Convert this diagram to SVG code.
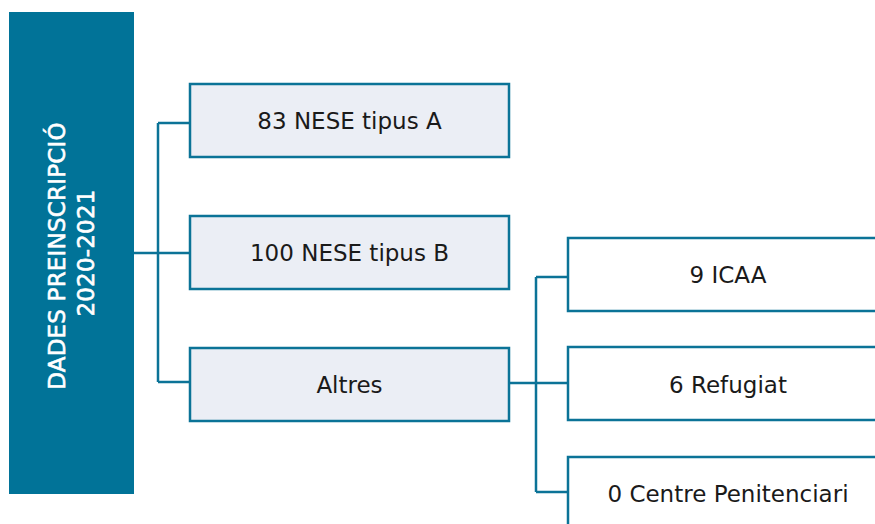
<svg xmlns="http://www.w3.org/2000/svg" width="875" height="524" viewBox="0 0 875 524">
<style>
.box{fill:#ebeef5;stroke:#0b7397;stroke-width:2.5}
.wbox{fill:#ffffff;stroke:#0b7397;stroke-width:2.5}
.lbl{font-family:"DejaVu Sans","Liberation Sans",sans-serif;font-size:23px;fill:#1a1a1a;text-anchor:middle}
.head{font-family:"DejaVu Sans","Liberation Sans",sans-serif;font-size:23px;letter-spacing:0.2px;fill:#ffffff;stroke:#ffffff;stroke-width:0.6;text-anchor:middle}
.con{fill:none;stroke:#0b7397;stroke-width:2.5}
</style>
<rect width="875" height="524" fill="#ffffff"/>
<g id="connectors">
<path class="con" d="M134 253 H190 M158 123 V382 M158 123 H190 M158 382 H190"/>
<path class="con" d="M509 383 H568 M536 277 V492 M536 277 H568 M536 492 H568"/>
</g>
<g id="root">
<rect x="9" y="12" width="125" height="482" fill="#017398"/>
<text class="head" transform="translate(65 256) rotate(-90)">DADES PREINSCRIPCIÓ</text>
<text class="head" transform="translate(94 253) rotate(-90)">2020-2021</text>
</g>
<g id="nodeA">
<rect class="box" x="190" y="84" width="319" height="73"/>
<text class="lbl" x="349.5" y="129">83 NESE tipus A</text>
</g>
<g id="nodeB">
<rect class="box" x="190" y="216" width="319" height="73"/>
<text class="lbl" x="349.5" y="261">100 NESE tipus B</text>
</g>
<g id="nodeAltres">
<rect class="box" x="190" y="348" width="319" height="73"/>
<text class="lbl" x="349.5" y="393">Altres</text>
</g>
<g id="nodeICAA">
<rect class="wbox" x="568" y="238" width="330" height="73"/>
<text class="lbl" x="728" y="283">9 ICAA</text>
</g>
<g id="nodeRefugiat">
<rect class="wbox" x="568" y="347" width="330" height="73"/>
<text class="lbl" x="728" y="393">6 Refugiat</text>
</g>
<g id="nodeCentre">
<rect class="wbox" x="568" y="457" width="330" height="90"/>
<text class="lbl" x="728" y="502">0 Centre Penitenciari</text>
</g>
</svg>
